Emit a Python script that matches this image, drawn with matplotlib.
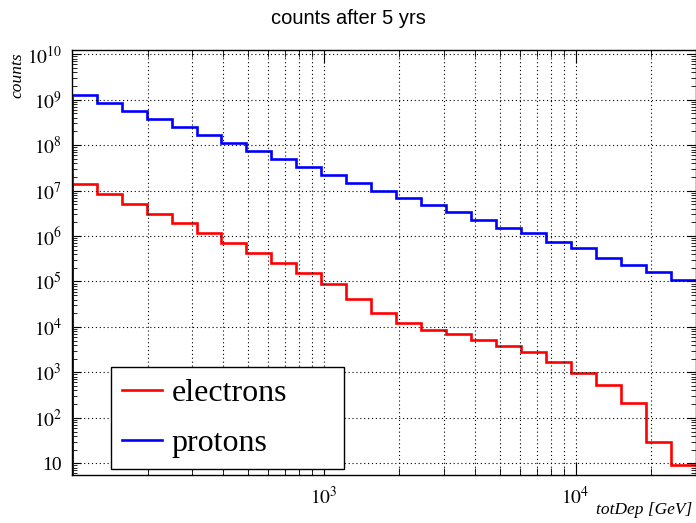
import numpy as np
import matplotlib
matplotlib.use('Agg')
import matplotlib.pyplot as plt
import matplotlib.ticker as ticker

# 25 log bins, 100 GeV .. 30 TeV
edges = [100, 125.6, 157.8, 198.3, 249.1, 313.0, 393.2, 493.9, 620.5, 779.6,
         979.4, 1230, 1546, 1942, 2440, 3065, 3850, 4837, 6077, 7635,
         9592, 12050, 15140, 19020, 23890, 30000]
protons = [1.27e9, 8.6e8, 5.6e8, 3.76e8, 2.5e8, 1.65e8, 1.11e8, 7.4e7, 4.95e7, 3.3e7,
           2.24e7, 1.45e7, 9.95e6, 6.98e6, 4.75e6, 3.33e6, 2.29e6, 1.53e6, 1.19e6, 7.3e5,
           5.37e5, 3.34e5, 2.31e5, 1.59e5, 1.08e5]
electrons = [1.38e7, 8.55e6, 5.15e6, 3.1e6, 1.97e6, 1.19e6, 7.15e5, 4.2e5, 2.5e5, 1.51e5,
             8.9e4, 4.19e4, 2.03e4, 1.2e4, 8.7e3, 6.9e3, 5.16e3, 3.86e3, 2.85e3, 1.72e3,
             984, 520, 212, 29.8, 9.0]
ymin, ymax = 5.53, 1.24e10

plt.rcParams['font.family'] = ['Liberation Serif', 'DejaVu Serif']
plt.rcParams['mathtext.fontset'] = 'stix'

fig = plt.figure(figsize=(6.96, 5.23), dpi=100)
ax = fig.add_axes([0.103, 0.0918, 0.8966, 0.8126])
ax.set_xscale('log')
ax.set_yscale('log')

for vals, col, name in [(electrons, 'red', 'electrons'), (protons, 'blue', 'protons')]:
    ax.stairs(vals, edges, color=col, lw=1.9, label=name, baseline=None)
    ax.vlines(edges[0], ymin, vals[0], color=col, lw=1.9)

ax.set_xlim(edges[0], edges[-1])
ax.set_ylim(ymin, ymax)


def ylab(v, p):
    if v < ymin or v > ymax:
        return ''
    if abs(v - 10) < 1e-6:
        return '10'
    return r'$10^{%d}$' % round(np.log10(v))


ax.set_xticks([1e3, 1e4])
ax.set_xticklabels([r'$10^{3}$', r'$10^{4}$'])
ax.xaxis.set_minor_locator(ticker.LogLocator(base=10, subs=np.arange(2, 10), numticks=20))
ax.xaxis.set_minor_formatter(ticker.NullFormatter())
ax.yaxis.set_major_locator(ticker.LogLocator(base=10, numticks=20))
ax.yaxis.set_minor_locator(ticker.LogLocator(base=10, subs=np.arange(2, 10), numticks=20))
ax.yaxis.set_minor_formatter(ticker.NullFormatter())
ax.yaxis.set_major_formatter(ticker.FuncFormatter(ylab))

ax.tick_params(which='both', direction='in', top=True, right=True, labelsize=14)
ax.tick_params(axis='x', which='major', length=9.5, pad=8)
ax.tick_params(axis='x', which='minor', length=5)
ax.tick_params(axis='y', which='major', length=6.5, pad=7)
ax.tick_params(axis='y', which='minor', length=3.5)
for s in ax.spines.values():
    s.set_linewidth(1.0)

gs = dict(color='black', lw=0.8, linestyle=(0, (1, 2.5)))
ax.grid(True, which='major', axis='y', **gs)
ax.grid(True, which='both', axis='x', **gs)

leg = ax.legend(loc='lower left', bbox_to_anchor=(0.063, 0.014, 0.373, 0.238), mode='expand',
                fontsize=23, fancybox=False, edgecolor='black', framealpha=1,
                handlelength=1.25, handletextpad=0.3, borderpad=0.35, labelspacing=0.65,
                borderaxespad=0)
leg.get_frame().set_linewidth(1.0)

fig.text(0.5, 1 - 18 / 523, 'counts after 5 yrs', ha='center', va='center',
         fontsize=14.5, family='Liberation Sans')
fig.text(17 / 696, 1 - 52 / 523, 'counts', rotation=90, ha='center', va='top',
         fontsize=12.5, style='italic')
fig.text(692 / 696, 1 - 510 / 523, 'totDep [GeV]', ha='right', va='center',
         fontsize=12.5, style='italic')

fig.savefig('out.png', dpi=100)
